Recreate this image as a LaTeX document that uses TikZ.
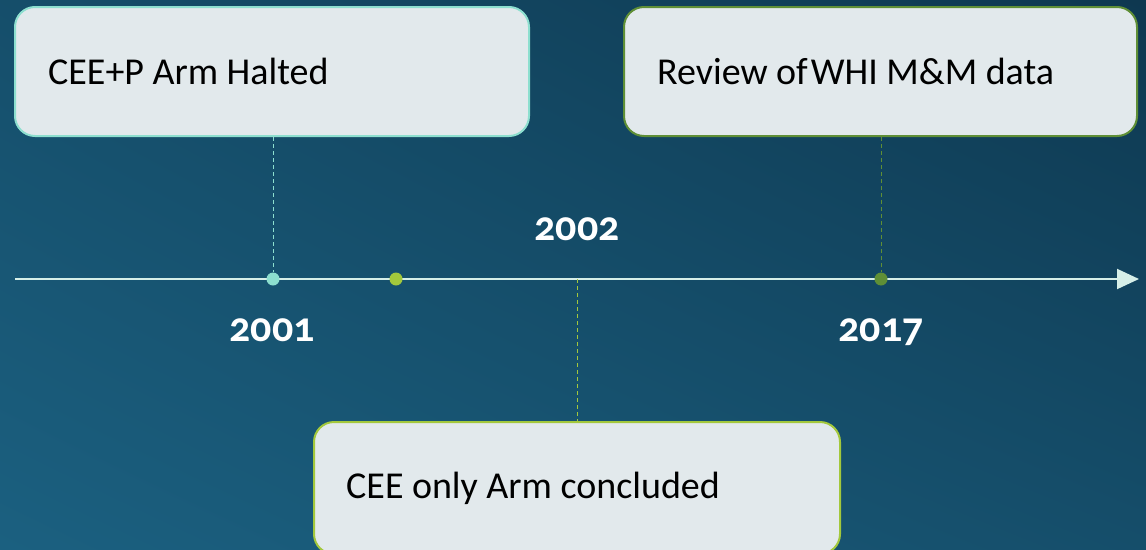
\documentclass[tikz,border=0pt]{standalone}
\usepackage{fontspec}
\setmainfont{Carlito}
\newfontfamily\yearfont[Numbers=OldStyle]{Carlito}
\usetikzlibrary{arrows.meta,shadings}
\definecolor{bgdark}{HTML}{0E3850}
\definecolor{bglight}{HTML}{1B6080}
\definecolor{boxfill}{HTML}{E2E9EC}
\definecolor{tealc}{HTML}{8DDFCF}
\definecolor{limec}{HTML}{A3C83C}
\definecolor{greenc}{HTML}{5F8F36}
\definecolor{axisc}{HTML}{D6EFE8}
% caption font with tight word spacing
\newcommand\captionfont{\fontsize{38}{44}\selectfont}
\newcommand\tightwords{\spaceskip=8.5pt\relax}
\tikzset{
  event/.style={draw=#1, line width=2pt, fill=boxfill, rounded corners=20pt, inner sep=0pt},
  caption/.style={anchor=west, inner sep=0pt, font=\captionfont, text=black},
  year/.style={anchor=base, inner sep=0pt, font=\yearfont\bfseries\fontsize{42}{46}\selectfont, text=white},
  dot/.style={circle, fill=#1, inner sep=0pt, minimum size=13pt},
  leader/.style={draw=#1, line width=1pt, dash pattern=on 4pt off 3pt},
}
\begin{document}
\begin{tikzpicture}[x=1pt, y=-1pt]
  % background with diagonal gradient
  \useasboundingbox (0,0) rectangle (1146,549);
  \clip (0,0) rectangle (1146,549);
  \shade[lower left=bglight, upper left=bglight!55!bgdark, lower right=bglight!55!bgdark, upper right=bgdark]
    (0,549) rectangle (1146,0);

  % event boxes
  \node[event=tealc, minimum width=514pt, minimum height=129pt] (halted) at (272,71.5) {};
  \node[event=greenc, minimum width=513pt, minimum height=129pt] (review) at (880.5,71.5) {};
  \node[event=limec, minimum width=526pt, minimum height=132pt] (concluded) at (577,488) {};

  % captions inside the boxes
  \node[caption] (haltedtext) at ([xshift=34pt]halted.west) {\tightwords CEE+P Arm Halted};
  \node[caption] (reviewtext) at ([xshift=34pt]review.west) {\tightwords Review of\kern3pt WHI M\&M data};
  \node[caption] (concludedtext) at ([xshift=33pt]concluded.west) {\tightwords CEE only Arm concluded};

  % timeline axis
  \coordinate (start) at (15,279);
  \coordinate (end) at (1139,279);
  \draw[axisc, line width=2pt, -{Triangle[length=22pt, width=20pt, fill=axisc]}] (start) -- (end);

  % points on the axis
  \node[dot=tealc] (p2001) at (273,279) {};
  \node[dot=limec] (p2002) at (396,279) {};
  \node[dot=greenc] (p2017) at (881,279) {};
  \coordinate (m2002) at (577,279);

  % leader lines
  \draw[leader=tealc] (halted.south -| p2001) -- (p2001);
  \draw[leader=greenc] (review.south -| p2017) -- (p2017);
  \draw[leader=limec] (m2002) -- (concluded.north -| m2002);

  % year labels
  \node[year] (y2001) at (272,341) {2001};
  \node[year] (y2002) at (577,240) {2002};
  \node[year] (y2017) at (881,341) {2017};
\end{tikzpicture}
\end{document}
